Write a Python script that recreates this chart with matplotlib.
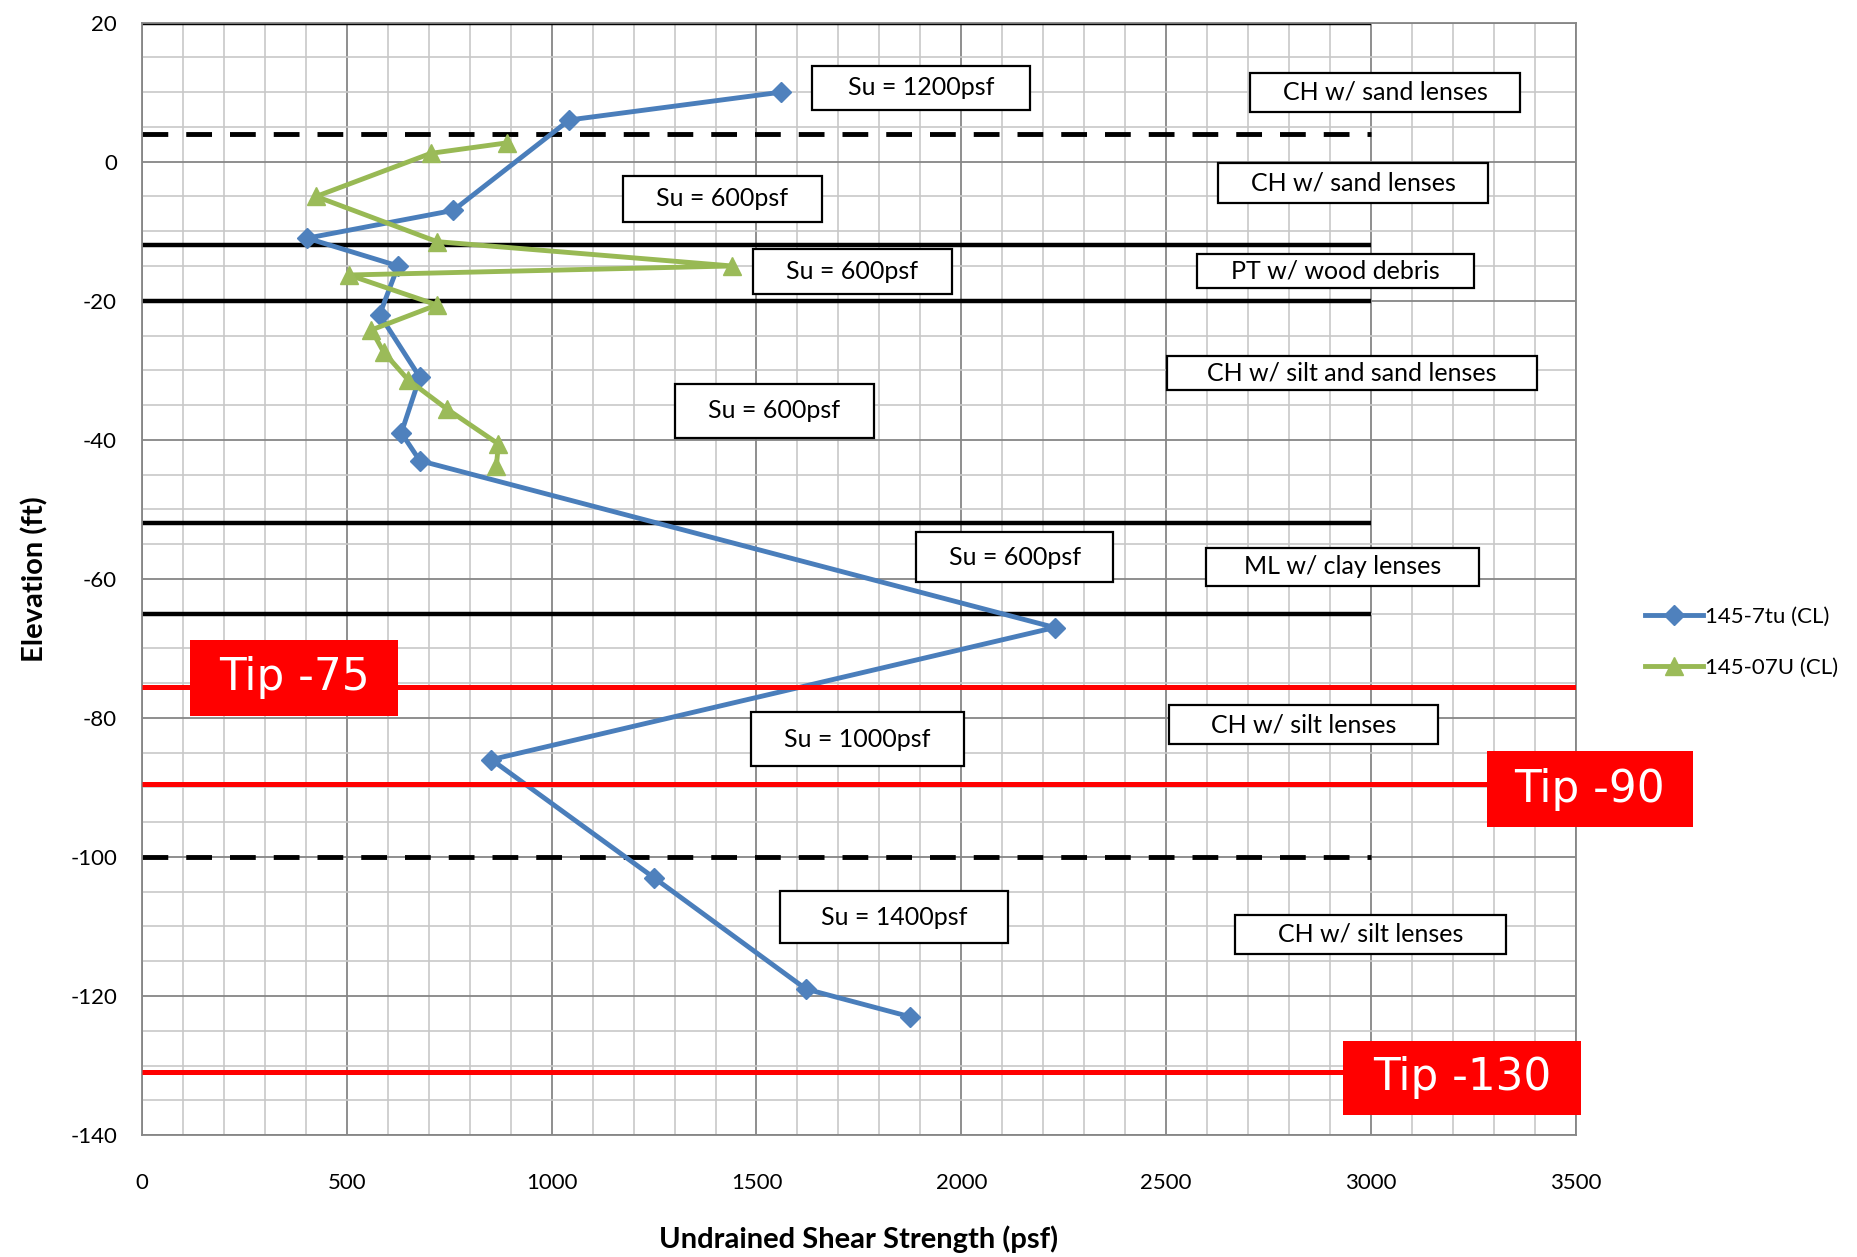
import matplotlib
matplotlib.use("Agg")
import matplotlib.pyplot as plt
from matplotlib.patches import Rectangle
from matplotlib.ticker import MultipleLocator

# ---------------- data ----------------
s1_label = "145-7tu (CL)"
s1_su = [1560, 1043, 760, 403, 625, 580, 678, 633, 678, 2228, 853, 1250, 1621, 1876]
s1_elev = [10, 6, -7, -11, -15, -22, -31, -39, -43, -67, -86, -103, -119, -123]

s2_label = "145-07U (CL)"
s2_su = [890, 705, 425, 720, 1440, 505, 720, 560, 590, 650, 745, 870, 865]
s2_elev = [2.7, 1.2, -5, -11.5, -15, -16.3, -20.6, -24.2, -27.4, -31.4, -35.6, -40.6, -43.8]

layer_bounds_solid = [20, -12, -20, -52, -65]
layer_bounds_dashed = [4, -100]
boundary_x = [0, 3000]

tip_elev = [-75.5, -89.5, -131]
tip_x = [0, 3500]
tip_labels = ["Tip -75", "Tip -90", "Tip -130"]

su_labels = ["Su = 1200psf", "Su = 600psf", "Su = 600psf", "Su = 600psf",
             "Su = 600psf", "Su = 1000psf", "Su = 1400psf"]
soil_labels = ["CH w/ sand lenses", "CH w/ sand lenses", "PT w/ wood debris",
               "CH w/ silt and sand lenses", "ML w/ clay lenses",
               "CH w/ silt lenses", "CH w/ silt lenses"]

x_ticks = [0, 500, 1000, 1500, 2000, 2500, 3000, 3500]
y_ticks = [20, 0, -20, -40, -60, -80, -100, -120, -140]

# ---------------- layout (box extents, data coords) ----------------
su_boxes = [(1636, 2168, 7.5, 13.8), (1173, 1659, -8.7, -2.0), (1491, 1977, -19.1, -12.6),
            (1301, 1786, -39.7, -32.0), (1890, 2370, -60.5, -53.3), (1486, 2006, -86.9, -79.2),
            (1558, 2113, -112.4, -104.9)]
soil_boxes = [(2705, 3364, 7.2, 12.8), (2627, 3286, -6.0, -0.2), (2575, 3251, -18.2, -13.3),
              (2503, 3405, -32.9, -27.9), (2598, 3263, -61.0, -55.5), (2506, 3165, -83.8, -78.2),
              (2668, 3329, -113.9, -108.3)]
tip_boxes = [(118, 624, -79.7, -68.8), (3283, 3786, -95.7, -84.8), (2931, 3514, -137.1, -126.4)]

FONT = ["Lato", "DejaVu Sans"]
plt.rcParams["font.family"] = FONT
plt.rcParams["axes.unicode_minus"] = False

fig = plt.figure(figsize=(18.57, 12.57), dpi=100)
ax = fig.add_axes([0.0765, 0.097, 0.772, 0.885])

ax.set_xlim(0, 3500)
ax.set_ylim(-140, 20)
ax.xaxis.set_minor_locator(MultipleLocator(100))
ax.yaxis.set_minor_locator(MultipleLocator(5))
ax.set_xticks(x_ticks)
ax.set_yticks(y_ticks)
ax.grid(which="minor", color="#C8C8C8", lw=1.2, zorder=0)
ax.grid(which="major", color="#868686", lw=1.3, zorder=0)
ax.set_axisbelow(True)
for sp in ax.spines.values():
    sp.set_color("#868686")
    sp.set_linewidth(1.3)
ax.tick_params(which="both", length=0)
ax.tick_params(axis="x", pad=27, labelsize=16)
ax.tick_params(axis="y", pad=18, labelsize=16)

# layer boundaries
for e in layer_bounds_solid:
    ax.plot(boundary_x, [e, e], color="black", lw=3.2, zorder=2, solid_capstyle="butt")
for e in layer_bounds_dashed:
    ax.plot(boundary_x, [e, e], color="black", lw=3.5, zorder=2,
            dashes=(5.3, 3.7), dash_capstyle="butt")

# series
ax.plot(s1_su, s1_elev, color="#4A7EBB", lw=3.5, marker="D", ms=10,
        mfc="#4F81BD", mec="#4F81BD", zorder=3, label=s1_label)
ax.plot(s2_su, s2_elev, color="#98B954", lw=3.5, marker="^", ms=13,
        mfc="#9BBB59", mec="#9BBB59", zorder=3, label=s2_label)

# tip lines
for e in tip_elev:
    ax.plot(tip_x, [e, e], color="#FF0000", lw=3.6, zorder=4, solid_capstyle="butt")


def box(b, text, fc, tc, fs, ec, z, family):
    x0, x1, y0, y1 = b
    ax.add_patch(Rectangle((x0, y0), x1 - x0, y1 - y0, fc=fc, ec=ec, lw=1.6,
                           zorder=z, clip_on=False))
    ax.text((x0 + x1) / 2, (y0 + y1) / 2, text, ha="center", va="center",
            color=tc, fontsize=fs, zorder=z + 0.5, clip_on=False, family=family)


for b, t in zip(su_boxes, su_labels):
    box(b, t, "white", "black", 18, "black", 5, FONT)
for b, t in zip(soil_boxes, soil_labels):
    box(b, t, "white", "black", 18, "black", 5, FONT)
for b, t in zip(tip_boxes, tip_labels):
    box(b, t, "#FF0000", "white", 31.5, "none", 6, ["DejaVu Sans"])

ax.set_xlabel("Undrained Shear Strength (psf)", fontsize=21, fontweight="bold", labelpad=24)
ax.set_ylabel("Elevation (ft)", fontsize=21, fontweight="bold", labelpad=16)

ax.legend(loc="center left", bbox_to_anchor=(0.886, 0.489), bbox_transform=fig.transFigure,
          frameon=False, fontsize=16, handlelength=2.6, handletextpad=0.1,
          borderpad=0, borderaxespad=0, labelspacing=1.4)

fig.savefig("out.png", dpi=100)
